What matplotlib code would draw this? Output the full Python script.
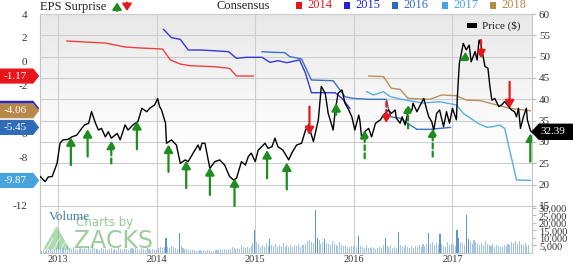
import numpy as np
import matplotlib
matplotlib.use("Agg")
import matplotlib.pyplot as plt
from matplotlib.patches import Polygon, Rectangle, FancyArrowPatch

plt.rcParams['font.family'] = ['Liberation Serif', 'DejaVu Serif']
plt.rcParams['axes.unicode_minus'] = False

W, H = 573, 264

# ---------------- data ----------------
year_ticks = [2013, 2014, 2015, 2016, 2017]
price_ticks = [15, 20, 25, 30, 35, 40, 45, 50, 55, 60]
eps_ticks = [4, 2, 0, -2, -4, -6, -8, -10, -12]
vol_ticks = [5000, 10000, 15000, 20000, 25000, 30000]

price_t = [2012.82, 2012.87, 2012.90, 2012.94, 2012.97, 2012.99, 2013.02, 2013.05, 2013.10, 2013.14,
           2013.19, 2013.24, 2013.27, 2013.31, 2013.34, 2013.38, 2013.41, 2013.44, 2013.48, 2013.51,
           2013.54, 2013.60, 2013.63, 2013.68, 2013.71, 2013.76, 2013.81, 2013.85, 2013.90, 2013.93,
           2013.98, 2014.01, 2014.03, 2014.05, 2014.09, 2014.10, 2014.15, 2014.20, 2014.24, 2014.29,
           2014.32, 2014.37, 2014.42, 2014.44, 2014.46, 2014.49, 2014.54, 2014.59, 2014.64, 2014.69,
           2014.74, 2014.78, 2014.81, 2014.86, 2014.90, 2014.93, 2014.96, 2015.00, 2015.03, 2015.10,
           2015.13, 2015.17, 2015.20, 2015.23, 2015.28, 2015.34, 2015.37, 2015.42, 2015.47, 2015.51,
           2015.54, 2015.59, 2015.64, 2015.67, 2015.71, 2015.74, 2015.76, 2015.79, 2015.81, 2015.84,
           2015.88, 2015.91, 2015.94, 2015.98, 2016.01, 2016.05, 2016.06, 2016.08, 2016.11, 2016.15,
           2016.18, 2016.22, 2016.27, 2016.30, 2016.35, 2016.38, 2016.42, 2016.43, 2016.47, 2016.49,
           2016.52, 2016.55, 2016.59, 2016.60, 2016.64, 2016.67, 2016.71, 2016.74, 2016.76, 2016.79,
           2016.81, 2016.84, 2016.87, 2016.91, 2016.94, 2016.97, 2017.00, 2017.04, 2017.05, 2017.07,
           2017.11, 2017.14, 2017.17, 2017.19, 2017.23, 2017.25, 2017.27, 2017.29, 2017.33, 2017.36,
           2017.38, 2017.40, 2017.43, 2017.47, 2017.50, 2017.53, 2017.57, 2017.60, 2017.63, 2017.65,
           2017.67, 2017.69, 2017.72, 2017.75, 2017.76, 2017.79, 2017.80]
price_v = [21.9, 20.7, 21.8, 21.9, 23.8, 25.0, 29.7, 30.5, 30.6, 31.2,
           31.6, 33.2, 34.0, 34.4, 37.1, 34.4, 32.8, 33.2, 31.2, 32.4,
           30.9, 32.0, 30.5, 34.0, 32.8, 34.0, 34.8, 37.9, 37.1, 37.9,
           38.7, 40.2, 38.3, 37.5, 34.4, 29.7, 30.5, 29.3, 25.0, 25.8,
           25.4, 27.4, 29.3, 28.1, 29.7, 29.7, 23.8, 25.4, 25.8, 24.6,
           21.9, 21.1, 21.5, 25.4, 24.6, 26.6, 27.4, 25.4, 28.1, 29.7,
           28.5, 28.9, 30.9, 28.9, 28.1, 25.8, 27.4, 29.3, 29.7, 32.8,
           34.0, 30.1, 35.2, 43.0, 41.4, 36.7, 35.2, 32.8, 37.1, 41.4,
           42.2, 39.1, 37.9, 35.9, 32.8, 36.3, 35.2, 30.9, 32.4, 33.2,
           31.2, 34.4, 35.2, 36.3, 37.5, 36.7, 37.5, 35.6, 34.4, 35.9,
           34.0, 37.1, 37.5, 39.1, 37.1, 38.5, 40.2, 37.5, 35.9, 34.8,
           32.8, 36.7, 37.5, 33.6, 37.1, 34.4, 37.9, 35.2, 40.6, 48.4,
           53.1, 51.6, 52.7, 48.8, 51.2, 49.2, 53.9, 52.7, 47.7, 47.3,
           43.0, 39.8, 40.2, 38.3, 38.7, 39.5, 38.3, 37.5, 37.1, 35.9,
           37.9, 33.2, 35.9, 37.9, 35.2, 32.8, 32.39]
last_price = 32.39

# consensus EPS estimates by fiscal year
cons_2014_t = [2013.09, 2013.22, 2013.48, 2013.68, 2013.83, 2014.06, 2014.14, 2014.24, 2014.34,
               2014.58, 2014.74, 2014.81, 2014.98]
cons_2014_v = [1.75, 1.69, 1.58, 1.25, 1.17, 1.08, 0.17, -0.17, -0.31, -0.39, -0.53, -1.17, -1.17]

cons_2015_t = [2014.07, 2014.15, 2014.24, 2014.32, 2014.44, 2014.58, 2014.73, 2014.81, 2014.91,
               2015.07, 2015.15, 2015.23, 2015.32, 2015.45, 2015.51, 2015.57, 2015.81, 2015.88, 2015.96]
cons_2015_v = [2.72, 2.03, 1.89, 1.00, 1.00, 0.94, 0.86, 0.31, 0.39, 0.39, -0.03, 0.11, -0.06,
               0.17, -0.94, -2.56, -2.56, -3.03, -3.86]

cons_2016_t = [2015.07, 2015.17, 2015.30, 2015.35, 2015.47, 2015.57, 2015.79, 2015.91, 2015.99,
               2016.16, 2016.33, 2016.37, 2016.47, 2016.57, 2016.64, 2016.77, 2016.98]
cons_2016_v = [0.86, 0.81, 0.78, 0.45, 0.25, -1.50, -1.56, -2.89, -3.03, -3.11, -3.11, -4.56,
               -4.69, -5.25, -5.61, -5.61, -5.45]

cons_2017_t = [2016.13, 2016.20, 2016.30, 2016.37, 2016.52, 2016.70, 2016.87, 2017.04, 2017.11,
               2017.26, 2017.35, 2017.41, 2017.48, 2017.53, 2017.65, 2017.79]
cons_2017_v = [-2.47, -2.75, -2.47, -2.89, -3.17, -3.42, -3.31, -3.58, -4.28, -5.11, -5.44, -5.39,
               -5.25, -5.53, -9.83, -9.87]

cons_2018_t = [2016.15, 2016.30, 2016.38, 2016.47, 2016.55, 2016.77, 2016.89, 2017.04, 2017.14,
               2017.28, 2017.45, 2017.58, 2017.79]
cons_2018_v = [-1.17, -1.22, -2.19, -2.28, -3.03, -3.11, -2.75, -2.81, -3.17, -3.22, -3.58,
               -3.86, -4.06]

cons_years = ['2014', '2015', '2016', '2017', '2018']
cons_colors = ['#e8161b', '#2222d8', '#2f6cb6', '#46a3dc', '#b8874a']
cons_line_colors = ['#ee4040', '#3636dc', '#3a74bc', '#58aee2', '#bb9060']

# earnings surprises: date, price at arrow tip, price at arrow tail, positive?, estimate-only (dashed)?
surp_t = [2013.13, 2013.30, 2013.54, 2013.80, 2014.12, 2014.30, 2014.54, 2014.79, 2015.12, 2015.32,
          2015.55, 2015.82, 2016.11, 2016.33, 2016.55, 2016.80, 2017.13, 2017.29, 2017.58, 2017.79]
surp_tip = [31.1, 33.0, 30.3, 34.9, 29.4, 25.6, 24.1, 21.5, 28.1, 25.2,
            31.6, 39.1, 32.8, 34.4, 38.8, 33.2, 51.2, 49.6, 37.9, 32.0]
surp_tail = [24.6, 26.6, 25.0, 28.3, 23.0, 19.2, 17.6, 15.0, 21.5, 18.9,
             38.3, 36.4, 26.2, 39.4, 33.2, 26.6, 49.6, 53.9, 44.1, 25.4]
surp_pos = [True, True, True, True, True, True, True, True, True, True,
            False, True, True, False, True, True, True, False, False, True]
surp_dashed = [False, False, True, False, False, False, False, False, False, False,
               False, False, True, True, True, True, True, True, False, False]

# weekly trading volume
vol_start = 2012.83
volume = [1500, 1800, 1600, 2200, 2000, 2600, 1900, 2400, 3000,
          8000, 3500, 2800, 3200, 2500, 4500, 3000, 2600, 3800, 2400, 2200, 2800, 3300,
          2600, 3000, 2400, 4000, 2800, 5200, 3400, 2500, 2900, 2200, 3600, 2800, 2400,
          2000, 2500, 3100, 2200, 2800, 2100, 4200, 2600, 2300, 2900, 2500, 2100, 2700,
          3000, 2400, 3500, 2600, 2200, 3200, 2800, 2300, 3600, 2500, 2100, 2400, 2000,
          2200, 3600, 4200, 3000, 3800, 10000, 4000, 3500, 4500, 3800, 3200, 2800, 13500,
          4500, 3000, 2600, 2800, 2200, 1800, 2000, 1700, 1500, 1600, 1900, 1400, 1700,
          1500, 1800, 2200, 1600, 1400, 1900, 2100, 1700, 2400, 1800, 2600, 2000, 2200,
          2800, 4200, 3000, 2600, 3400, 2900, 5600, 3800, 3000, 4000, 3400, 4600, 6800,
          15000, 7500, 6000, 4200, 5000, 3800, 6400, 4800, 9000, 5200, 4400, 6200, 4000,
          5200, 4600, 6400, 3800, 5000, 4200, 5600, 3900, 5300, 4400, 6000, 4200, 5000,
          5500, 6200, 7800, 8700, 7400, 6500, 28500, 10000, 8500, 6000, 7200, 9000, 6500,
          5800, 5000, 8200, 6400, 5200, 4600, 7000, 5600, 4500, 5200, 4000, 3800, 4600,
          4400, 5200, 3800, 11000, 4800, 4200, 3600, 5400, 3500, 3000, 3800, 3400, 2800,
          3200, 4200, 3600, 5000, 9800, 4600, 3800, 5200, 3400, 4000, 3300, 14000, 5000,
          4400, 3800, 5600, 4200, 3600, 4800, 3400, 4400, 3800, 5200, 4000, 5800, 4600,
          6200, 13000, 5800, 7400, 5200, 6600, 5000, 12500, 6000, 4800, 4200, 7000, 5200,
          6000, 5400, 4800, 15500, 9800, 7000, 6400, 5600, 25300, 9000, 7800, 6200, 8500,
          7000, 6000, 5400, 6800, 5200, 7800, 6000, 5000, 4600, 5800, 4200, 5400, 4800,
          4000, 3800, 5200, 4400, 6000, 5600, 7000, 6400, 8200, 5800, 8000, 6200, 5000,
          6600, 4800, 5400]
vol_t = vol_start + np.arange(len(volume)) * 7 / 365.25

# ---------------- figure ----------------
fig = plt.figure(figsize=(W / 100, H / 100), dpi=100)
rect = [40 / W, 11 / H, 492 / W, 239 / H]
ax_g = fig.add_axes(rect)
ax_v = fig.add_axes(rect, sharex=ax_g)
ax_e = fig.add_axes(rect, sharex=ax_g)
ax_p = fig.add_axes(rect, sharex=ax_g)

xlim = (2012.817, 2017.807)
price_lim = (3.984, 60)
eps_lim = (-15.917, 4)
vol_lim = (0, 159333)

# background panel with soft gradient and grid
grad = np.ones((200, 1, 3))
top_c = np.array([0.91, 0.91, 0.91])
for i in range(200):
    f = min(i / 110.0, 1.0)
    grad[i, 0, :] = top_c * (1 - f) + np.ones(3) * f
ax_g.imshow(grad, extent=(0, 1, 0, 1), transform=ax_g.transAxes, aspect='auto', zorder=0)
ax_g.set_xlim(*xlim)
ax_g.set_ylim(*price_lim)
ax_g.set_xticks(year_ticks)
ax_g.set_xticklabels([str(y) for y in year_ticks])
ax_g.set_yticks(price_ticks)
ax_g.grid(True, color='#cdcdcd', lw=0.8, zorder=1)
ax_g.set_axisbelow(False)
ax_g.tick_params(axis='y', left=False, labelleft=False)
ax_g.tick_params(axis='x', length=0, pad=1.5, labelsize=7.5, labelcolor='#333333')
for s in ax_g.spines.values():
    s.set_color('#c4c4c4')
    s.set_linewidth(0.8)

for a in (ax_v, ax_e, ax_p):
    a.patch.set_visible(False)
    for s in a.spines.values():
        s.set_visible(False)
    a.tick_params(axis='x', bottom=False, labelbottom=False)

# volume
ax_v.set_ylim(*vol_lim)
vcols = ['#5c95cc' if v >= 9000 else '#9fc4e8' for v in volume]
ax_v.bar(vol_t, volume, width=0.0105, color=vcols, linewidth=0, align='center')
ax_v.yaxis.tick_right()
ax_v.set_yticks(vol_ticks)
ax_v.set_yticklabels([f'{v:,}' for v in vol_ticks])
ax_v.tick_params(axis='y', length=3, color='#bbbbbb', labelsize=7.5, pad=2, labelcolor='#333333')

# consensus estimates
ax_e.set_ylim(*eps_lim)
cons_t = [cons_2014_t, cons_2015_t, cons_2016_t, cons_2017_t, cons_2018_t]
cons_v = [cons_2014_v, cons_2015_v, cons_2016_v, cons_2017_v, cons_2018_v]
for t, v, c in zip(cons_t, cons_v, cons_line_colors):
    ax_e.plot(t, v, color=c, lw=1.0, solid_joinstyle='round')
ax_e.set_yticks(eps_ticks)
ax_e.set_yticklabels([str(v) for v in eps_ticks])
ax_e.tick_params(axis='y', left=True, labelleft=True, right=False, labelright=False,
                 length=0, pad=9, labelsize=8, labelcolor='#333333')

# price and surprises
ax_p.set_ylim(*price_lim)
ax_p.plot(price_t, price_v, color='black', lw=1.0, zorder=3)
ax_p.yaxis.tick_right()
ax_p.set_yticks(price_ticks)
ax_p.set_yticklabels([str(v) for v in price_ticks])
ax_p.tick_params(axis='y', length=3, color='#bbbbbb', labelsize=8, pad=2, labelcolor='#333333')
for t, tip, tail, pos, dashed in zip(surp_t, surp_tip, surp_tail, surp_pos, surp_dashed):
    col = '#1e8c1e' if pos else '#e31a1c'
    ls = (0, (2.2, 1.4)) if dashed else '-'
    arr = FancyArrowPatch((t, tail), (t, tip),
                          arrowstyle='-|>,head_length=0.45,head_width=0.26',
                          mutation_scale=10, lw=1.6, color=col, linestyle=ls,
                          shrinkA=0, shrinkB=0, zorder=4)
    ax_p.add_patch(arr)

ax_g.set_xlim(*xlim)

# ---------------- overlay: legends and value tags ----------------
ov = fig.add_axes([0, 0, 1, 1])
ov.set_xlim(0, W)
ov.set_ylim(0, H)
ov.axis('off')
ov.patch.set_visible(False)

fig.canvas.draw()

tag_z = [10]


def left_tag(val, color):
    yc = ax_e.transData.transform((xlim[0], val))[1]
    z = tag_z[0]
    pts = [(0, yc - 7), (33, yc - 7), (38.5, yc), (33, yc + 7), (0, yc + 7)]
    ov.add_patch(Polygon(pts, closed=True, facecolor=color, edgecolor=color, lw=0.8, zorder=z))
    ov.text(15, yc, f'{val:.2f}', color='white', fontsize=8, ha='center', va='center', zorder=z + 1)
    tag_z[0] += 2


left_tag(cons_2014_v[-1], cons_colors[0])
left_tag(cons_2015_v[-1], cons_colors[1])
left_tag(cons_2018_v[-1], cons_colors[4])
left_tag(cons_2016_v[-1], cons_colors[2])
left_tag(cons_2017_v[-1], cons_colors[3])

# last price tag
yc = ax_p.transData.transform((xlim[1], last_price))[1]
pts = [(532, yc), (539, yc - 7.5), (W, yc - 7.5), (W, yc + 7.5), (539, yc + 7.5)]
ov.add_patch(Polygon(pts, closed=True, facecolor='black', edgecolor='black', zorder=5))
ov.text(553, yc, f'{last_price:.2f}', color='white', fontsize=8, ha='center', va='center', zorder=6)

# header legend
ov.text(40, H - 7, 'EPS Surprise', fontsize=9, color='#222222', ha='left', va='center')
ov.add_patch(FancyArrowPatch((117, H - 11), (117, H - 2.5), arrowstyle='-|>,head_length=0.45,head_width=0.3',
                             mutation_scale=9, lw=1.5, color='#1e8c1e', shrinkA=0, shrinkB=0))
ov.add_patch(FancyArrowPatch((127, H - 2.5), (127, H - 11), arrowstyle='-|>,head_length=0.45,head_width=0.3',
                             mutation_scale=9, lw=1.5, color='#e31a1c', shrinkA=0, shrinkB=0))
ov.text(216.5, H - 6, 'Consensus', fontsize=9, color='#222222', ha='left', va='center')
leg_x = [296, 344, 392, 442, 490]
for lx, lab, c in zip(leg_x, cons_years, cons_colors):
    ov.add_patch(Rectangle((lx, H - 9), 6, 7, facecolor=c, edgecolor='none'))
    ov.text(lx + 11, H - 5.5, lab, fontsize=9, color=c, ha='left', va='center')

# price legend inside plot
ov.add_patch(Rectangle((467, H - 28), 10, 5, facecolor='black', edgecolor='none', zorder=5))
ov.text(481.5, H - 25.5, 'Price ($)', fontsize=8, color='#222222', ha='left', va='center', zorder=5)

# volume caption and watermark
ov.text(49, H - 217, 'Volume', fontsize=9.5, color='#4a7fb8', ha='left', va='center', zorder=4)
ov.add_patch(Polygon([(43, H - 249.5), (70, H - 249.5), (56.5, H - 226)], closed=True,
                     facecolor='#4caf50', edgecolor='none', alpha=0.45, zorder=4))
for k in range(3):
    ov.plot([47 + 7 * k, 53 + 7 * k], [H - 249, H - 238], color='white', lw=0.8, alpha=0.6, zorder=4)
ov.text(76, H - 222.5, 'Charts by', fontsize=8.5, color='#3d9b3d', alpha=0.55,
        family='DejaVu Sans', ha='left', va='center', zorder=4)
ov.text(74, H - 240.5, 'ZACKS', fontsize=17, color='#3d9b3d', alpha=0.5,
        family='DejaVu Sans', ha='left', va='center', zorder=4)

fig.savefig('out.png', dpi=100)
